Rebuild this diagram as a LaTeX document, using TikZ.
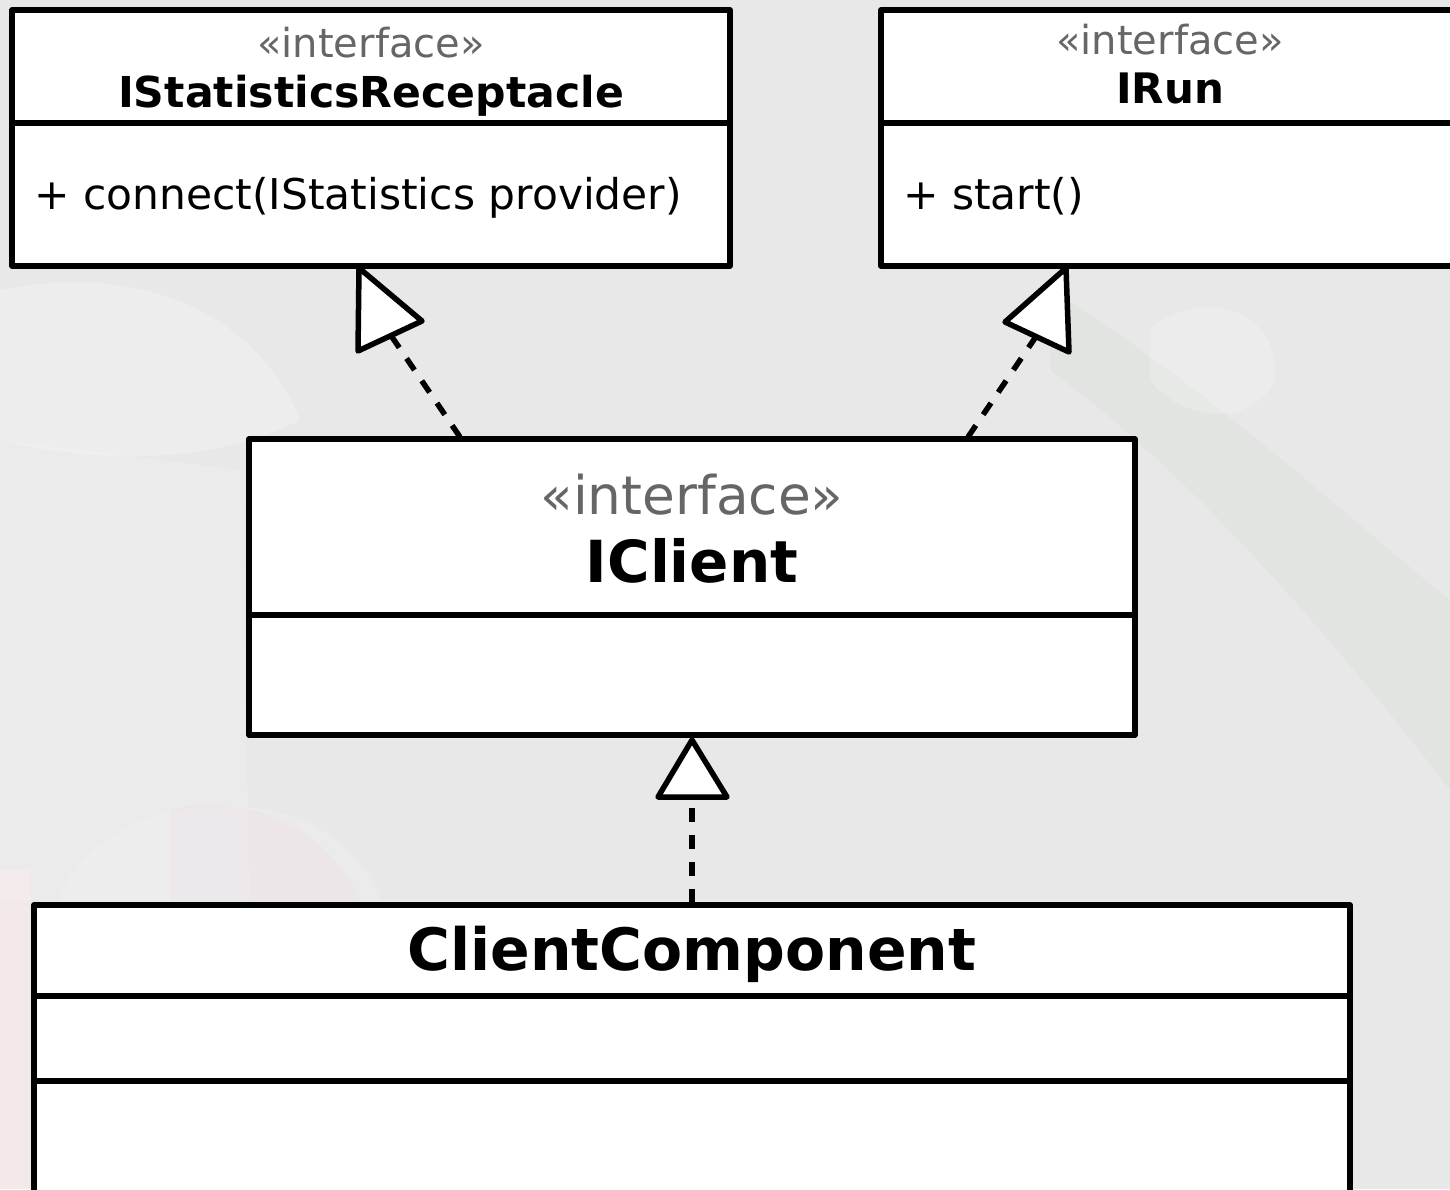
\documentclass[tikz,border=0pt]{standalone}
\usepackage{fontspec}
\setmainfont{DejaVu Sans}
\definecolor{bg}{HTML}{E8E8E8}
\definecolor{stereo}{HTML}{666666}
\tikzset{
  umlbox/.style={draw=black, fill=white, line width=5.5pt, rectangle, inner sep=0pt, outer sep=0pt, anchor=north west, line join=round},
  sepline/.style={draw=black, line width=5.5pt},
  stereotxt/.style={text=stereo, inner sep=0pt, anchor=base},
  nametxt/.style={font=\bfseries, inner sep=0pt, anchor=base},
  optxt/.style={inner sep=0pt, anchor=base west},
  realize/.style={draw=black, line width=5.5pt, dash pattern=on 14pt off 13pt},
  openhead/.style={draw=black, fill=white, line width=5.5pt, line join=round},
}
\begin{document}
\begin{tikzpicture}[x=1pt, y=-1pt]
\useasboundingbox (0,0) rectangle (1450,1189);
\clip (0,0) rectangle (1450,1189);
% background (faint photo)
\fill[bg] (0,0) rectangle (1450,1189);
\fill[red!8, opacity=0.5] (0,870) rectangle (30,1189);
\fill[white, opacity=0.22] (0,290) .. controls (150,260) and (260,320) .. (300,420) .. controls (200,470) and (80,460) .. (0,440) -- cycle;
\fill[white, opacity=0.15] (0,440) -- (240,470) -- (250,900) -- (0,900) -- cycle;
\fill[green!25!gray, opacity=0.05] (1050,290) .. controls (1200,380) and (1350,520) .. (1450,600) -- (1450,790) .. controls (1350,660) and (1200,480) .. (1050,370) -- cycle;
\fill[white, opacity=0.2] (1150,330) .. controls (1190,290) and (1280,300) .. (1275,380) .. controls (1250,430) and (1180,420) .. (1150,380) -- cycle;
\fill[white, opacity=0.15] (60,900) .. controls (90,790) and (330,760) .. (380,900) -- cycle;
\fill[magenta!30, opacity=0.08] (170,810) .. controls (250,790) and (330,830) .. (360,900) -- (170,900) -- cycle;

% IStatisticsReceptacle
\node[umlbox, minimum width=718pt, minimum height=256pt] (rec) at (12,10) {};
\coordinate (recsepL) at (12,123);
\coordinate (recsepR) at (730,123);
\draw[sepline] (recsepL) -- (recsepR);
\node[stereotxt, font=\fontsize{40}{48}\selectfont] (recst) at (371,57) {«interface»};
\node[nametxt, font=\fontsize{42.6}{50}\selectfont\bfseries] (recnm) at (371,107) {IStatisticsReceptacle};
\node[optxt, font=\fontsize{42.4}{50}\selectfont] (recop) at (34,209) {+ connect(IStatistics provider)};

% IRun
\node[umlbox, minimum width=620pt, minimum height=256pt] (run) at (881,10) {};
\coordinate (runsepL) at (881,123);
\coordinate (runsepR) at (1501,123);
\draw[sepline] (runsepL) -- (runsepR);
\node[stereotxt, font=\fontsize{40}{48}\selectfont] (runst) at (1170,54) {«interface»};
\node[nametxt, font=\fontsize{42}{50}\selectfont\bfseries] (runnm) at (1170,103) {IRun};
\node[optxt, font=\fontsize{42.4}{50}\selectfont] (runop) at (903,209) {+ start()};

% IClient
\node[umlbox, minimum width=886pt, minimum height=296pt] (icl) at (249,439) {};
\coordinate (iclsepL) at (249,615);
\coordinate (iclsepR) at (1135,615);
\draw[sepline] (iclsepL) -- (iclsepR);
\node[stereotxt, font=\fontsize{53.3}{60}\selectfont] (iclst) at (692,514) {«interface»};
\node[nametxt, font=\fontsize{58}{66}\selectfont\bfseries] (iclnm) at (692,582) {IClient};

% ClientComponent
\node[umlbox, minimum width=1316pt, minimum height=400pt] (cc) at (34,905) {};
\coordinate (ccsep1L) at (34,996);
\coordinate (ccsep1R) at (1350,996);
\coordinate (ccsep2L) at (34,1081);
\coordinate (ccsep2R) at (1350,1081);
\draw[sepline] (ccsep1L) -- (ccsep1R);
\draw[sepline] (ccsep2L) -- (ccsep2R);
\node[nametxt, font=\fontsize{58.4}{66}\selectfont\bfseries] (ccnm) at (692,970) {ClientComponent};

% realization heads (open triangles)
\coordinate (recTip) at (359,268);
\coordinate (recTa) at (358,351);
\coordinate (recTb) at (422,321);
\coordinate (recBase) at (392,337);
\coordinate (runTip) at (1066,268);
\coordinate (runTa) at (1005,322);
\coordinate (runTb) at (1069,352);
\coordinate (runBase) at (1035,338);
\coordinate (iclTip) at (692,740);
\coordinate (iclTa) at (658,797);
\coordinate (iclTb) at (727,797);
\coordinate (iclBase) at (692,799);
% realization lines
\coordinate (iclA) at (460,437);
\coordinate (iclB) at (968,437);
\coordinate (ccC) at (692,903);
\draw[realize] (iclA) -- (recBase);
\draw[realize] (iclB) -- (runBase);
\draw[realize] (ccC) -- (iclBase);
\draw[openhead] (recTip) -- (recTa) -- (recTb) -- cycle;
\draw[openhead] (runTip) -- (runTa) -- (runTb) -- cycle;
\draw[openhead] (iclTip) -- (iclTa) -- (iclTb) -- cycle;
\end{tikzpicture}
\end{document}
